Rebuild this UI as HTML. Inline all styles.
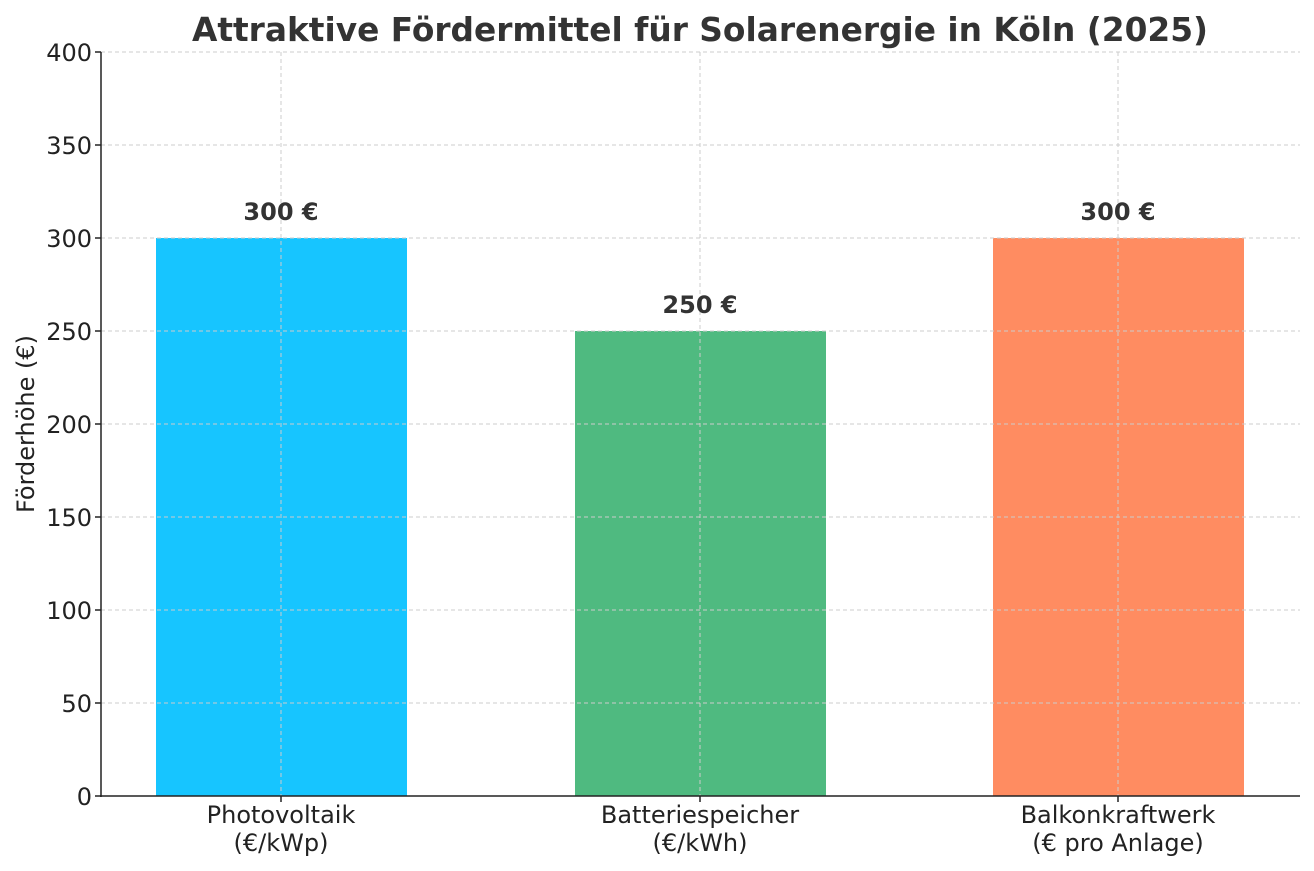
<!DOCTYPE html>
<html><head><meta charset="utf-8"><style>body{margin:0;background:#fff}svg{display:block}text{font-family:"DejaVu Sans","Liberation Sans",sans-serif}</style></head>
<body>
<svg width="1314" height="871" viewBox="0 0 1314 871">
<text x="700" y="41" text-anchor="middle" font-size="32.8" font-weight="bold" fill="#333">Attraktive Fördermittel für Solarenergie in Köln (2025)</text>
<g stroke="#ccc" stroke-width="1" stroke-dasharray="4,3">
<line x1="101" x2="1300" y1="52" y2="52"/><line x1="101" x2="1300" y1="145" y2="145"/><line x1="101" x2="1300" y1="238" y2="238"/><line x1="101" x2="1300" y1="331" y2="331"/><line x1="101" x2="1300" y1="424" y2="424"/><line x1="101" x2="1300" y1="517" y2="517"/><line x1="101" x2="1300" y1="610" y2="610"/><line x1="101" x2="1300" y1="703" y2="703"/>
</g>
<rect x="156" y="238" width="251" height="558" fill="#17c5ff"/>
<rect x="575" y="331" width="251" height="465" fill="#4fba80"/>
<rect x="993" y="238" width="251" height="558" fill="#ff8c61"/>
<g stroke="#ccc" stroke-width="1" stroke-dasharray="4,3">
<line x1="281" x2="281" y1="52" y2="796"/><line x1="700" x2="700" y1="52" y2="796"/><line x1="1118" x2="1118" y1="52" y2="796"/>
<line x1="101" x2="1300" y1="238" y2="238"/><line x1="101" x2="1300" y1="331" y2="331"/><line x1="101" x2="1300" y1="424" y2="424"/><line x1="101" x2="1300" y1="517" y2="517"/><line x1="101" x2="1300" y1="610" y2="610"/><line x1="101" x2="1300" y1="703" y2="703"/>
</g>
<g stroke="#222" stroke-width="1.5"><line x1="101" x2="101" y1="52" y2="797"/><line x1="100" x2="1300" y1="796" y2="796"/>
<line x1="95" x2="101" y1="52" y2="52"/><line x1="95" x2="101" y1="145" y2="145"/><line x1="95" x2="101" y1="238" y2="238"/><line x1="95" x2="101" y1="331" y2="331"/><line x1="95" x2="101" y1="424" y2="424"/><line x1="95" x2="101" y1="517" y2="517"/><line x1="95" x2="101" y1="610" y2="610"/><line x1="95" x2="101" y1="703" y2="703"/><line x1="95" x2="101" y1="796" y2="796"/>
<line x1="281" x2="281" y1="796" y2="802"/><line x1="700" x2="700" y1="796" y2="802"/><line x1="1118" x2="1118" y1="796" y2="802"/></g>
<g font-size="24" fill="#222" text-anchor="end">
<text x="92" y="61">400</text><text x="92" y="154">350</text><text x="92" y="247">300</text><text x="92" y="340">250</text><text x="92" y="433">200</text><text x="92" y="526">150</text><text x="92" y="619">100</text><text x="92" y="712">50</text><text x="92" y="805">0</text></g>
<g font-size="24" fill="#222" text-anchor="middle">
<text x="281" y="823">Photovoltaik</text><text x="281" y="851">(€/kWp)</text>
<text x="700" y="823">Batteriespeicher</text><text x="700" y="851">(€/kWh)</text>
<text x="1118" y="823">Balkonkraftwerk</text><text x="1118" y="851">(€ pro Anlage)</text>
<text transform="translate(34,424) rotate(-90)">Förderhöhe (€)</text></g>
<g font-size="24" font-weight="bold" fill="#333" text-anchor="middle">
<text x="281" y="220">300 €</text><text x="700" y="313">250 €</text><text x="1118" y="220">300 €</text></g>
</svg>
</body></html>
